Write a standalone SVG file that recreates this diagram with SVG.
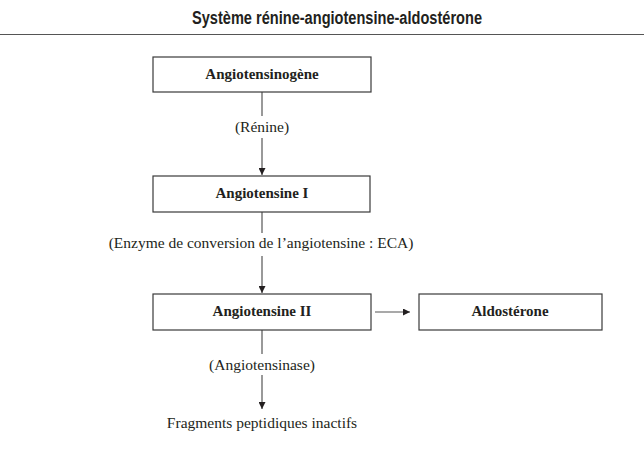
<svg xmlns="http://www.w3.org/2000/svg" width="644" height="455" viewBox="0 0 644 455">
<style>
.box{fill:#fff;stroke:#3a3a3a;stroke-width:1.2}
.t{font-family:"Liberation Serif","Times New Roman",serif;font-size:15.5px;fill:#231f20;text-anchor:middle}
.b{font-weight:bold;font-size:15px}
.c{stroke:#555;stroke-width:1.2;fill:none}
</style>
<defs>
<marker id="ah" viewBox="0 0 10 10" refX="10" refY="5" markerWidth="7" markerHeight="7" orient="auto" markerUnits="userSpaceOnUse">
<path d="M0,0 L10,5 L0,10 z" fill="#231f20"/>
</marker>
</defs>
<rect width="644" height="455" fill="#fff"/>
<text x="337" y="24" font-family="'Liberation Sans',Arial,sans-serif" font-weight="bold" font-size="17.5" fill="#231f20" text-anchor="middle" textLength="290" lengthAdjust="spacingAndGlyphs">Système rénine-angiotensine-aldostérone</text>
<line x1="0" y1="34.5" x2="644" y2="34.5" stroke="#555" stroke-width="1"/>
<g id="connectors">
<line class="c" x1="262" y1="92" x2="262" y2="116"/>
<line class="c" x1="262" y1="138" x2="262" y2="175" marker-end="url(#ah)"/>
<line class="c" x1="262" y1="212" x2="262" y2="233"/>
<line class="c" x1="262" y1="256" x2="262" y2="293" marker-end="url(#ah)"/>
<line class="c" x1="375" y1="312" x2="410" y2="312" marker-end="url(#ah)"/>
<line class="c" x1="262" y1="330" x2="262" y2="354"/>
<line class="c" x1="262" y1="375" x2="262" y2="409" marker-end="url(#ah)"/>
</g>
<g id="angiotensinogene">
<rect class="box" x="153" y="57" width="218" height="35"/>
<text class="t b" x="262" y="79">Angiotensinogène</text>
</g>
<text class="t" x="262" y="132">(Rénine)</text>
<g id="angiotensine1">
<rect class="box" x="153" y="176" width="217" height="36"/>
<text class="t b" x="262" y="198">Angiotensine I</text>
</g>
<text class="t" x="261" y="248">(Enzyme de conversion de l’angiotensine : ECA)</text>
<g id="angiotensine2">
<rect class="box" x="153" y="294" width="218" height="36"/>
<text class="t b" x="262" y="316">Angiotensine II</text>
</g>
<g id="aldosterone">
<rect class="box" x="419" y="294" width="183" height="36"/>
<text class="t b" x="510" y="316">Aldostérone</text>
</g>
<text class="t" x="262" y="370">(Angiotensinase)</text>
<g id="fragments">
<text class="t" x="262" y="428">Fragments peptidiques inactifs</text>
</g>
</svg>
